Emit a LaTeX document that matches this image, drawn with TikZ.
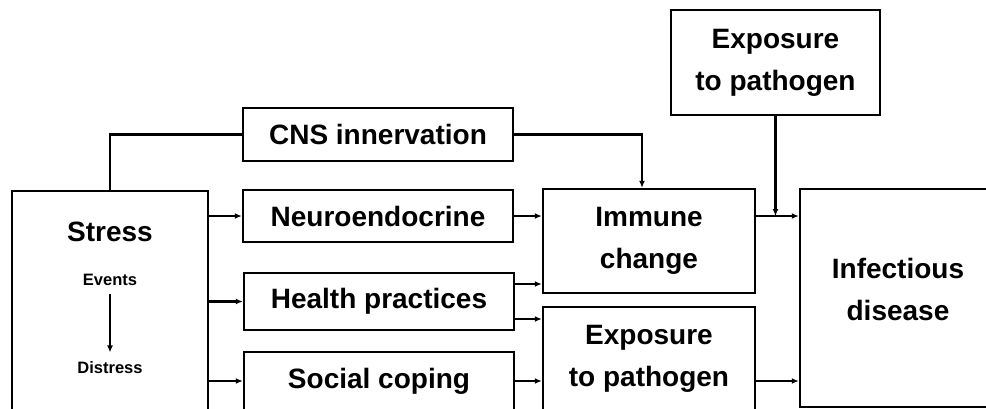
\documentclass[tikz,border=0pt]{standalone}
\usepackage{fontspec}
\setmainfont{Liberation Sans}
\usetikzlibrary{positioning, arrows.meta}

\begin{document}
\begin{tikzpicture}[
    x=1pt, y=-1pt,
    box/.style    = {draw, line width=2.4pt, inner sep=0pt, align=center, font=\bfseries\fontsize{28}{42}\selectfont},
    label/.style  = {align=center, font=\bfseries\fontsize{28}{42}\selectfont},
    small/.style  = {font=\bfseries\fontsize{16.5}{20}\selectfont},
    arrow/.style  = {-{Latex[length=7pt, width=6pt]}, line width=2.4pt}
]
\clip (0,0) rectangle (986,408);
\node[box, minimum width=196pt, minimum height=270pt] (stress)  at (110,326) {};
\node[box, minimum width=270pt, minimum height=53pt]  (cns)     at (378,134.5) {CNS innervation};
\node[box, minimum width=270pt, minimum height=52pt]  (neuro)   at (378,216) {Neuroendocrine};
\node[box, minimum width=270pt, minimum height=57pt]  (health)  at (379,301.5) {Health practices};
\node[box, minimum width=270pt, minimum height=58pt]  (social)  at (379,381) {Social coping};
\node[box, minimum width=212pt, minimum height=104pt] (immune)  at (649,241) {Immune\\change};
\node[box, minimum width=212pt, minimum height=104pt] (explow)  at (649,359) {Exposure\\to pathogen};
\node[box, minimum width=209pt, minimum height=105pt] (exptop)  at (775.5,62.5) {Exposure\\to pathogen};
\node[box, minimum width=196pt, minimum height=218pt] (infect)  at (898,298) {};
\node[label] (stresslbl) at (110,232) {Stress};
\node[small] (events)    at (110,280) {Events};
\node[small] (distress)  at (110,368) {Distress};
\node[label] (infectlbl) at (898,289) {Infectious\\disease};
\draw[arrow, shorten <=5pt, shorten >=6pt] (events) -- (distress);
% stress to the three paths
\draw[line width=2.4pt] (stress.north) |- (cns.west);
\draw[arrow] (cns.east) -| ([xshift=-7pt]immune.north);
\foreach \n in {neuro, health, social}
  \draw[arrow] (stress.east |- \n.west) -- (\n.west);
% paths to immune change and exposure
\coordinate (hup) at ([yshift=17.5pt]health.east);
\coordinate (hdn) at ([yshift=-17.5pt]health.east);
\draw[arrow] (neuro.east) -- (neuro.east -| immune.west);
\draw[arrow] (hup) -- (hup -| immune.west);
\draw[arrow] (hdn) -- (hdn -| explow.west);
\draw[arrow] (social.east) -- (social.east -| explow.west);
% into infectious disease
\draw[arrow] (immune.east |- neuro.east) -- (infect.west |- neuro.east);
\draw[arrow] (exptop.south) -- (exptop.south |- neuro.east);
\draw[arrow] (explow.east |- social.east) -- (infect.west |- social.east);
\end{tikzpicture}
\end{document}
